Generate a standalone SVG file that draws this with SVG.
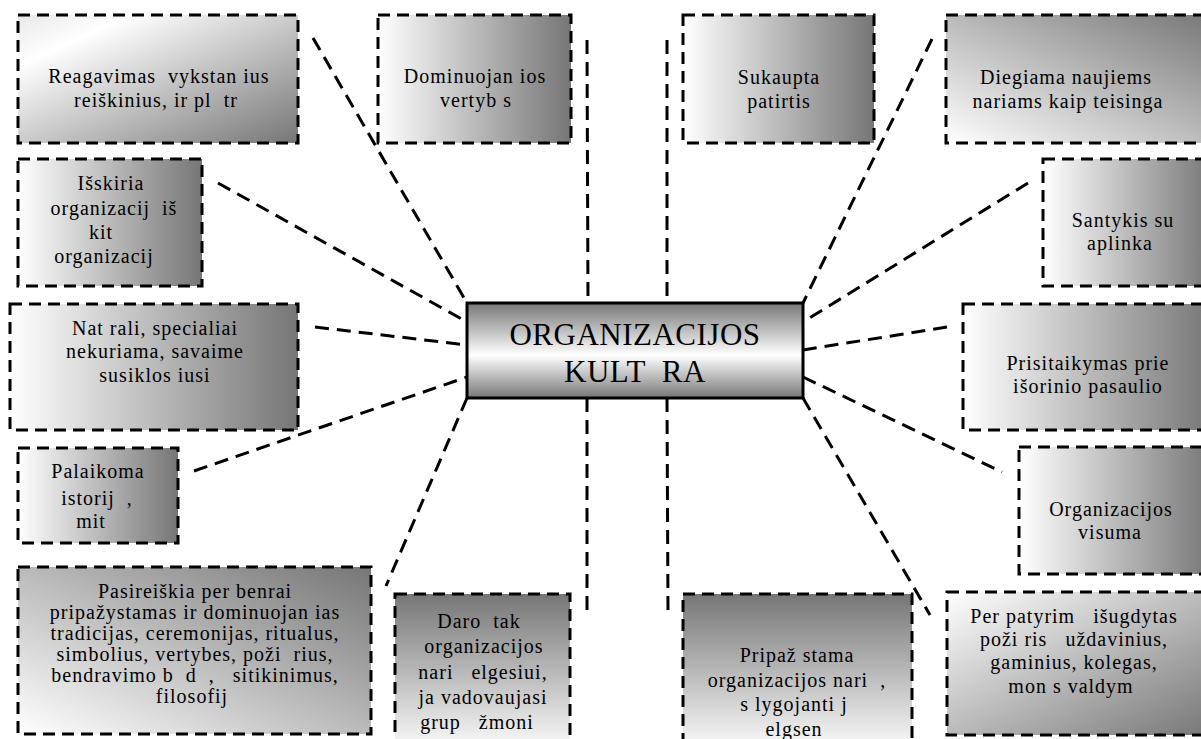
<svg xmlns="http://www.w3.org/2000/svg" width="1201" height="739" viewBox="0 0 1201 739">
<defs>
<linearGradient id="gH" x1="0" y1="0" x2="1" y2="0"><stop offset="0" stop-color="#ffffff"/><stop offset="1" stop-color="#767676"/></linearGradient>
<linearGradient id="gV" x1="0" y1="0" x2="0" y2="1"><stop offset="0" stop-color="#767676"/><stop offset="1" stop-color="#ffffff"/></linearGradient>
<linearGradient id="gTLBR" x1="0" y1="0" x2="1" y2="1"><stop offset="0" stop-color="#e8e8e8"/><stop offset="0.2" stop-color="#ffffff"/><stop offset="1" stop-color="#767676"/></linearGradient>
<linearGradient id="gTLBR2" x1="0" y1="0" x2="1" y2="1"><stop offset="0" stop-color="#ffffff"/><stop offset="1" stop-color="#767676"/></linearGradient>
<linearGradient id="gBLTR" x1="0" y1="1" x2="1" y2="0"><stop offset="0" stop-color="#ffffff"/><stop offset="1" stop-color="#767676"/></linearGradient>
<linearGradient id="gC" x1="0" y1="0" x2="0" y2="1"><stop offset="0" stop-color="#777777"/><stop offset="0.55" stop-color="#ffffff"/><stop offset="1" stop-color="#777777"/></linearGradient>
<style>
.box{stroke:#000;stroke-width:3;stroke-dasharray:12 7}
.t{font-size:20px;letter-spacing:1px;fill:#000;text-anchor:middle;white-space:pre}
.ct{font-size:31px;letter-spacing:0.5px;fill:#000;text-anchor:middle;white-space:pre}
.c{stroke:#000;stroke-width:3;stroke-dasharray:14 8;fill:none}
</style>
</defs>
<g id="connectors">
<line class="c" x1="313" y1="38" x2="467" y2="303"/>
<line class="c" x1="587" y1="40" x2="588" y2="303"/>
<line class="c" x1="667" y1="40" x2="667" y2="303"/>
<line class="c" x1="932" y1="39" x2="803" y2="303"/>
<line class="c" x1="218" y1="183" x2="467" y2="322"/>
<line class="c" x1="1028" y1="183" x2="803" y2="322"/>
<line class="c" x1="315" y1="327" x2="467" y2="345"/>
<line class="c" x1="947" y1="327" x2="803" y2="350"/>
<line class="c" x1="194" y1="471" x2="467" y2="377"/>
<line class="c" x1="803" y1="377" x2="1002" y2="472"/>
<line class="c" x1="467" y1="398" x2="386" y2="586"/>
<line class="c" x1="587" y1="398" x2="587" y2="617"/>
<line class="c" x1="667" y1="398" x2="668" y2="614"/>
<line class="c" x1="803" y1="398" x2="930" y2="615"/>
</g>
<g font-family="'Liberation Serif', 'Times New Roman', serif">
<g id="center">
<rect x="467" y="303" width="336" height="95" fill="url(#gC)" stroke="#000" stroke-width="3"/>
<text class="ct" x="635" y="345">ORGANIZACIJOS</text>
<text class="ct" x="635" y="382">KULT  RA</text>
</g>
<g id="n1">
<rect class="box" x="18" y="15" width="280" height="128" fill="url(#gTLBR)"/>
<text class="t" x="159" y="83">Reagavimas  vykstan ius</text>
<text class="t" x="156" y="107">reiškinius, ir pl  tr</text>
</g>
<g id="n2">
<rect class="box" x="378" y="15" width="193" height="128" fill="url(#gH)"/>
<text class="t" x="475" y="83">Dominuojan ios</text>
<text class="t" x="476" y="107">vertyb s</text>
</g>
<g id="n3">
<rect class="box" x="683" y="15" width="191" height="128" fill="url(#gH)"/>
<text class="t" x="779" y="84">Sukaupta</text>
<text class="t" x="779" y="108">patirtis</text>
</g>
<g id="n4">
<rect class="box" x="946" y="15" width="270" height="128" fill="url(#gBLTR)"/>
<text class="t" x="1066" y="84">Diegiama naujiems</text>
<text class="t" x="1068" y="108">nariams kaip teisinga</text>
</g>
<g id="n5">
<rect class="box" x="18" y="159" width="184" height="127" fill="url(#gH)"/>
<text class="t" x="111" y="190">Išskiria</text>
<text class="t" x="114" y="215">organizacij  iš</text>
<text class="t" x="104" y="239">kit </text>
<text class="t" x="107" y="263">organizacij </text>
</g>
<g id="n6">
<rect class="box" x="1043" y="159" width="170" height="127" fill="url(#gH)"/>
<text class="t" x="1123" y="227">Santykis su</text>
<text class="t" x="1120" y="250">aplinka</text>
</g>
<g id="n7">
<rect class="box" x="10" y="304" width="288" height="126" fill="url(#gH)"/>
<text class="t" x="155" y="335">Nat rali, specialiai</text>
<text class="t" x="155" y="358">nekuriama, savaime</text>
<text class="t" x="155" y="382">susiklos iusi</text>
</g>
<g id="n8">
<rect class="box" x="963" y="304" width="250" height="126" fill="url(#gH)"/>
<text class="t" x="1088" y="370">Prisitaikymas prie</text>
<text class="t" x="1088" y="393">išorinio pasaulio</text>
</g>
<g id="n9">
<rect class="box" x="18" y="448" width="160" height="95" fill="url(#gH)"/>
<text class="t" x="98" y="478">Palaikoma</text>
<text class="t" x="97" y="505">istorij  ,</text>
<text class="t" x="94" y="528">mit </text>
</g>
<g id="n10">
<rect class="box" x="1019" y="447" width="194" height="127" fill="url(#gH)"/>
<text class="t" x="1111" y="516">Organizacijos</text>
<text class="t" x="1110" y="539">visuma</text>
</g>
<g id="n11">
<rect class="box" x="18" y="567" width="353" height="167" fill="url(#gBLTR)"/>
<text class="t" x="195" y="598">Pasireiškia per benrai</text>
<text class="t" x="195" y="619">pripažystamas ir dominuojan ias</text>
<text class="t" x="195" y="640">tradicijas, ceremonijas, ritualus,</text>
<text class="t" x="195" y="661">simbolius, vertybes, poži  rius,</text>
<text class="t" x="195" y="682">bendravimo b  d  ,   sitikinimus,</text>
<text class="t" x="195" y="703">filosofij </text>
</g>
<g id="n12">
<rect class="box" x="395" y="594" width="175" height="160" fill="url(#gV)"/>
<text class="t" x="482" y="628">Daro  tak </text>
<text class="t" x="484" y="653">organizacijos</text>
<text class="t" x="483" y="679">nari   elgesiui,</text>
<text class="t" x="483" y="704">ja vadovaujasi</text>
<text class="t" x="480" y="729">grup   žmoni </text>
</g>
<g id="n13">
<rect class="box" x="683" y="594" width="229" height="160" fill="url(#gV)"/>
<text class="t" x="797" y="662">Pripaž stama</text>
<text class="t" x="797" y="687">organizacijos nari  ,</text>
<text class="t" x="797" y="711">s lygojanti j </text>
<text class="t" x="797" y="736">elgsen </text>
</g>
<g id="n14">
<rect class="box" x="947" y="592" width="266" height="143" fill="url(#gTLBR2)"/>
<text class="t" x="1074" y="623">Per patyrim   išugdytas</text>
<text class="t" x="1074" y="646">poži ris   uždavinius,</text>
<text class="t" x="1074" y="669">gaminius, kolegas,</text>
<text class="t" x="1074" y="693">mon s valdym </text>
</g>
</g>
</svg>
